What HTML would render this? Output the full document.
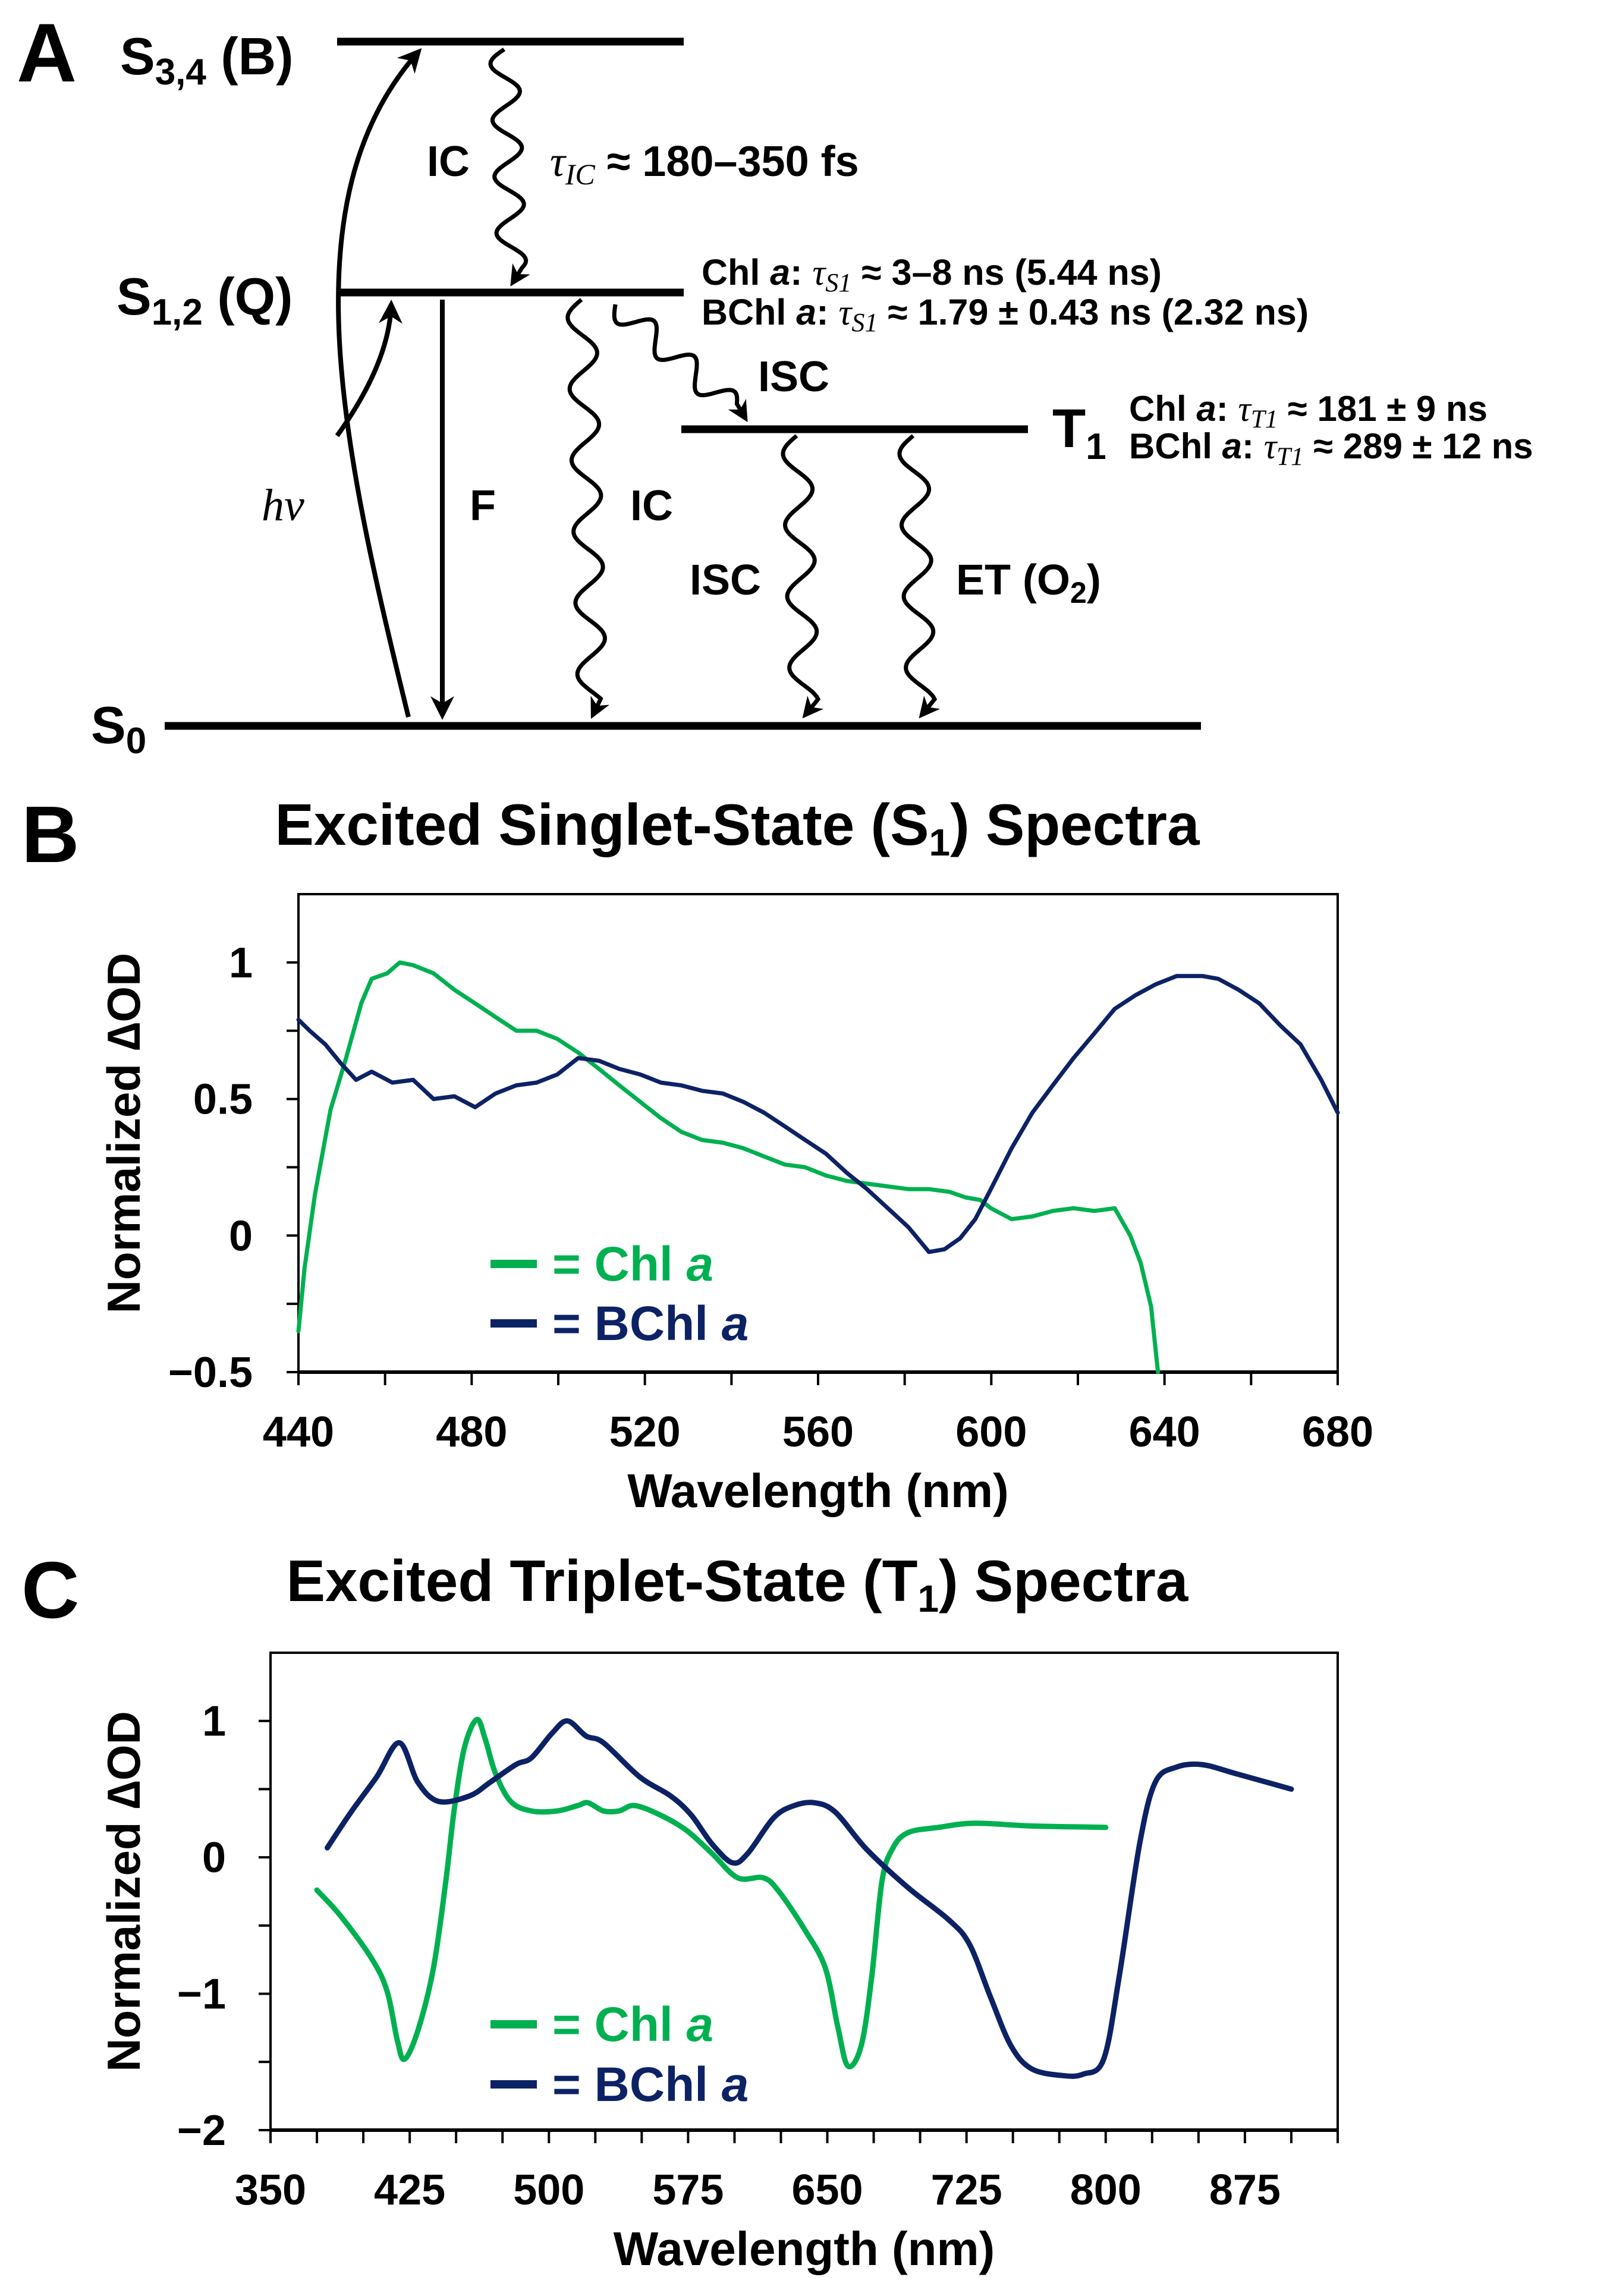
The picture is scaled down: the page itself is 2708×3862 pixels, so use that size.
<!DOCTYPE html>
<html><head><meta charset="utf-8">
<style>
html,body{margin:0;padding:0;background:#fff;}
svg{display:block;}
text{font-family:"Liberation Sans",Arial,sans-serif;font-weight:bold;fill:#000;}
.it{font-family:"Liberation Serif","DejaVu Serif",serif;font-style:italic;font-weight:normal;}
</style></head>
<body>
<svg id="fig" width="2708" height="3862" viewBox="0 0 2708 3862" xmlns="http://www.w3.org/2000/svg">
<defs>
<marker id="ah" viewBox="0 0 10 10" refX="8" refY="5" markerWidth="5" markerHeight="5" orient="auto-start-reverse"><path d="M0,0 L10,5 L0,10 L3,5 z" fill="#000"/></marker>
</defs>
<!-- Panel A -->
<g id="panelA">
<text x="28" y="137" font-size="140">A</text>
<line x1="567" y1="70" x2="1150" y2="70" stroke="#000" stroke-width="13"/>
<line x1="567" y1="492" x2="1150" y2="492" stroke="#000" stroke-width="13"/>
<line x1="1146" y1="722" x2="1729" y2="722" stroke="#000" stroke-width="13"/>
<line x1="277" y1="1221" x2="2020" y2="1221" stroke="#000" stroke-width="13"/>
<text x="202" y="125" font-size="88">S<tspan font-size="62" dy="17">3,4</tspan><tspan dy="-17"> (B)</tspan></text>
<text x="196" y="529" font-size="88">S<tspan font-size="62" dy="17">1,2</tspan><tspan dy="-17"> (Q)</tspan></text>
<text x="153" y="1250" font-size="88">S<tspan font-size="62" dy="17">0</tspan></text>
<text x="1770" y="752" font-size="92">T<tspan font-size="62" dy="20">1</tspan></text>
<path d="M687,1206 C575,750 483,333 704,87" fill="none" stroke="#000" stroke-width="8" marker-end="url(#ah)"/>
<path d="M567,733 Q655,610 658,512" fill="none" stroke="#000" stroke-width="8" marker-end="url(#ah)"/>
<line x1="744" y1="504" x2="744" y2="1203" stroke="#000" stroke-width="8" marker-end="url(#ah)"/>
<g id="wavies"></g>
<text x="718" y="296" font-size="72">IC</text>
<text x="925" y="296" font-size="72"><tspan class="it">τ</tspan><tspan class="it" font-size="50" dy="14">IC</tspan><tspan dy="-14"> ≈ 180–350 fs</tspan></text>
<text x="440" y="875" font-size="76" class="it">hν</text>
<text x="790" y="875" font-size="72">F</text>
<text x="1060" y="875" font-size="72">IC</text>
<text x="1275" y="658" font-size="72">ISC</text>
<text x="1160" y="1000" font-size="72">ISC</text>
<text x="1608" y="1000" font-size="72">ET (O<tspan font-size="50" dy="14">2</tspan><tspan dy="-14">)</tspan></text>
<text x="1180" y="479" font-size="61">Chl <tspan font-style="italic">a</tspan>: <tspan class="it">τ</tspan><tspan class="it" font-size="44" dy="11">S1</tspan><tspan dy="-11"> ≈ 3–8 ns (5.44 ns)</tspan></text>
<text x="1180" y="546" font-size="61">BChl <tspan font-style="italic">a</tspan>: <tspan class="it">τ</tspan><tspan class="it" font-size="44" dy="11">S1</tspan><tspan dy="-11"> ≈ 1.79 ± 0.43 ns (2.32 ns)</tspan></text>
<text x="1899" y="708" font-size="60">Chl <tspan font-style="italic">a</tspan>: <tspan class="it">τ</tspan><tspan class="it" font-size="43" dy="11">T1</tspan><tspan dy="-11"> ≈ 181 ± 9 ns</tspan></text>
<text x="1899" y="771" font-size="60">BChl <tspan font-style="italic">a</tspan>: <tspan class="it">τ</tspan><tspan class="it" font-size="43" dy="11">T1</tspan><tspan dy="-11"> ≈ 289 ± 12 ns</tspan></text>
</g>

<!-- Panel B -->
<text x="36" y="1450" font-size="135">B</text>
<text x="1240" y="1421" font-size="98" text-anchor="middle">Excited Singlet-State (S<tspan font-size="64" dy="18">1</tspan><tspan dy="-18">) Spectra</tspan></text>
<g id="chartB"></g>

<!-- Panel C -->
<text x="36" y="2721" font-size="135">C</text>
<text x="1240" y="2693" font-size="98" text-anchor="middle">Excited Triplet-State (T<tspan font-size="64" dy="18">1</tspan><tspan dy="-18">) Spectra</tspan></text>
<g id="chartC"></g>
</svg>
<script>
// ---- Panel B data ----
const bChlX = [440,441.4,443.8,447.4,451,454.5,456.9,460.5,463.4,466.5,471.2,476,480.8,485.5,490.3,495,499.8,504.6,509.4,514.1,518.9,523.7,528.4,533.2,538,542.7,547.5,552.3,557,561.8,566.6,571.3,576.1,580.9,585.6,590.4,594,597.5,599.9,604.7,609.5,614.2,619,623.8,628.5,632.1,634.5,636.9,638.5];
const bChlY = [-0.35,-0.12,0.15,0.46,0.65,0.85,0.94,0.96,1.0,0.99,0.96,0.9,0.85,0.8,0.75,0.75,0.72,0.67,0.61,0.55,0.49,0.43,0.38,0.35,0.34,0.32,0.29,0.26,0.25,0.22,0.2,0.19,0.18,0.17,0.17,0.16,0.14,0.13,0.1,0.06,0.07,0.09,0.1,0.09,0.1,0,-0.1,-0.26,-0.5];
const bBchlX = [440,442.6,446.2,449.8,453.3,456.9,461.7,466.5,471.2,476,480.8,485.5,490.3,495,499.8,504.6,509.4,514.1,518.9,523.7,528.4,533.2,538,542.7,547.5,552.3,557,561.8,566.6,571.3,576.1,580.9,585.6,589.2,592.8,596.3,599.9,604.7,609.5,614.2,619,623.8,628.5,633.3,638,642.8,648.8,652.4,657.1,661.9,666.7,671.4,676.2,680];
const bBchlY = [0.79,0.75,0.7,0.63,0.57,0.6,0.56,0.57,0.5,0.51,0.47,0.52,0.55,0.56,0.59,0.65,0.64,0.61,0.59,0.56,0.55,0.53,0.52,0.49,0.45,0.4,0.35,0.3,0.23,0.17,0.1,0.03,-0.06,-0.05,-0.01,0.06,0.17,0.32,0.45,0.55,0.65,0.74,0.83,0.88,0.92,0.95,0.95,0.94,0.9,0.85,0.77,0.7,0.57,0.45];
const bXTicks = [440,480,520,560,600,640,680];
const bYTicks = [1,0.5,0,-0.5];
const bYTickLabels = ["1","0.5","0","\u22120.5"];

// ---- Panel C data ----
const cChlX = [375,387.8,404.4,412.8,418.3,422.2,429.4,437.8,444.4,448.9,454.4,461.1,465.6,471.1,479.4,490.6,504.4,515.6,521.1,529.4,537.8,546.1,560,573.9,587.8,601.7,615.6,623.9,637.8,648.9,655.6,661.1,668.3,673.9,679.4,685,693.3,710,729.4,760,800];
const cChlY = [-0.24,-0.43,-0.74,-0.98,-1.34,-1.48,-1.27,-0.81,-0.18,0.34,0.8,1.01,0.87,0.62,0.41,0.34,0.34,0.38,0.4,0.34,0.34,0.38,0.31,0.2,0.03,-0.15,-0.15,-0.25,-0.53,-0.81,-1.24,-1.53,-1.38,-0.88,-0.18,0.06,0.18,0.22,0.25,0.23,0.22];
const cBchlX = [380.6,393.3,407.2,419.4,429.4,440.6,457.2,468.3,482.2,490.6,501.7,510,520,529.4,548.9,565.6,576.7,587.8,598.9,607.2,621.1,632.2,643.3,654.4,671.1,693.3,715.6,726.7,737.8,748.9,760,776.7,787.8,798.9,807.2,818.3,826.7,837.8,851.7,871.1,900];
const cBchlY = [0.07,0.33,0.59,0.84,0.55,0.41,0.45,0.55,0.68,0.73,0.91,1.0,0.89,0.84,0.59,0.45,0.31,0.1,-0.04,0.03,0.29,0.38,0.4,0.33,0.06,-0.22,-0.46,-0.64,-1.02,-1.38,-1.55,-1.6,-1.59,-1.48,-0.88,0.1,0.55,0.66,0.68,0.61,0.5];
const cXTicks = [350,425,500,575,650,725,800,875];
const cYTicks = [1,0,-1,-2];
const cYTickLabels = ["1","0","\u22121","\u22122"];

const NS = "http://www.w3.org/2000/svg";
const GREEN = "#00b050", NAVY = "#0c2265";
function mk(tag, parent, attrs){ const e=document.createElementNS(NS,tag); for(const k in attrs) e.setAttribute(k,attrs[k]); parent.appendChild(e); return e; }

function wavy(x1,y1,x2,y2,amp,wl){
  const dx=x2-x1, dy=y2-y1, L=Math.hypot(dx,dy), ux=dx/L, uy=dy/L, px=-uy, py=ux;
  let d="";
  for(let s=0;s<=L-25;s+=4){
    const o=amp*Math.sin(s/wl*2*Math.PI);
    const x=x1+ux*s+px*o, y=y1+uy*s+py*o;
    d+=(s===0?"M":"L")+x.toFixed(1)+","+y.toFixed(1);
  }
  d+="L"+x2+","+y2;
  return d;
}
const wg=document.getElementById("wavies");
const w1=mk("path",wg,{d:wavy(848,83,862,476,24,95),fill:"none",stroke:"#000","stroke-width":7,"marker-end":"url(#ah)"});


const w2=mk("path",wg,{d:wavy(978,504,997,1203,24,120),fill:"none",stroke:"#000","stroke-width":7,"marker-end":"url(#ah)"});


const w3=mk("path",wg,{d:wavy(1035,512,1254,704,22,90),fill:"none",stroke:"#000","stroke-width":7,"marker-end":"url(#ah)"});


const w4=mk("path",wg,{d:wavy(1340,733,1354,1203,24,120),fill:"none",stroke:"#000","stroke-width":7,"marker-end":"url(#ah)"});


const w5=mk("path",wg,{d:wavy(1536,733,1550,1203,24,120),fill:"none",stroke:"#000","stroke-width":7,"marker-end":"url(#ah)"});



function smoothPath(pts){
  let d="M"+pts[0][0].toFixed(1)+","+pts[0][1].toFixed(1);
  for(let i=0;i<pts.length-1;i++){
    const p0=pts[Math.max(0,i-1)],p1=pts[i],p2=pts[i+1],p3=pts[Math.min(pts.length-1,i+2)];
    const c1x=p1[0]+(p2[0]-p0[0])/6,c1y=p1[1]+(p2[1]-p0[1])/6;
    const c2x=p2[0]-(p3[0]-p1[0])/6,c2y=p2[1]-(p3[1]-p1[1])/6;
    d+="C"+c1x.toFixed(1)+","+c1y.toFixed(1)+" "+c2x.toFixed(1)+","+c2y.toFixed(1)+" "+p2[0].toFixed(1)+","+p2[1].toFixed(1);
  }
  return d;
}

function chart(g, cfg){
  const sx=v=>cfg.L+(v-cfg.x0)/(cfg.x1-cfg.x0)*(cfg.R-cfg.L);
  const sy=v=>cfg.B-(v-cfg.y0)/(cfg.y1-cfg.y0)*(cfg.B-cfg.T);
  const frame=mk("rect",g,{x:cfg.L,y:cfg.T,width:cfg.R-cfg.L,height:cfg.B-cfg.T,fill:"none",stroke:"#000","stroke-width":4});
  
  
  const xa=mk("line",g,{x1:cfg.L,y1:cfg.B,x2:cfg.R,y2:cfg.B,stroke:"#000","stroke-width":6});
  
  
  const ya=mk("line",g,{x1:cfg.L,y1:cfg.T,x2:cfg.L,y2:cfg.B,stroke:"#000","stroke-width":4});
  
  
  for(let v=cfg.x0; v<=cfg.x1+1e-6; v+=cfg.xMinor){
    const t=mk("line",g,{x1:sx(v),y1:cfg.B,x2:sx(v),y2:cfg.B+22,stroke:"#000","stroke-width":4});
    
    
  }
  for(let v=cfg.y0; v<=cfg.y1-cfg.yMinor+1e-6; v+=cfg.yMinor){
    const t=mk("line",g,{x1:cfg.L-20,y1:sy(v),x2:cfg.L,y2:sy(v),stroke:"#000","stroke-width":4});
    
    
  }
  cfg.xTicks.forEach(v=>{
    const t=mk("text",g,{x:sx(v),y:cfg.B+125,"font-size":72,"text-anchor":"middle"});
    t.textContent=v;
    
    
  });
  cfg.yTicks.forEach((v,i)=>{
    const t=mk("text",g,{x:cfg.yLabX,y:sy(v)+25,"font-size":72,"text-anchor":"end"});
    t.textContent=cfg.yLabels[i];
    
    
  });
  const xt=mk("text",g,{x:(cfg.L+cfg.R)/2,y:cfg.B+227,"font-size":80,"text-anchor":"middle"});
  xt.textContent="Wavelength (nm)";
  
  
  const cy=(cfg.T+cfg.B)/2+cfg.yTitleDy;
  const yt=mk("text",g,{x:0,y:0,"font-size":78,"text-anchor":"middle",transform:`translate(${cfg.yTitleX},${cy}) rotate(-90)`});
  yt.textContent="Normalized \u2206OD";
  
  
  cfg.series.forEach(s=>{
    const pts=s.x.map((v,i)=>[sx(v),sy(s.y[i])]);
    const d=cfg.smooth?smoothPath(pts):"M"+pts.map(p=>p[0].toFixed(1)+","+p[1].toFixed(1)).join("L");
    const p=mk("path",g,{d:d,fill:"none",stroke:s.c,"stroke-width":cfg.sw,"stroke-linejoin":"round","stroke-linecap":"round"});
    
    
  });
  cfg.legend.forEach((s,i)=>{
    const y=cfg.legY+i*cfg.legDy;
    const l=mk("line",g,{x1:825,y1:y,x2:903,y2:y,stroke:s.c,"stroke-width":14});
    
    
    const t=mk("text",g,{x:929,y:y+28,"font-size":82,fill:s.c});
    t.style.fill=s.c;
    t.innerHTML="= "+s.label+" <tspan font-style=\"italic\">a</tspan>";
    
    
  });
}

chart(document.getElementById("chartB"),{L:502,R:2250,T:1504,B:2308,x0:440,x1:680,y0:-0.5,y1:1.25,xMinor:20,yMinor:0.25,
  xTicks:bXTicks,yTicks:bYTicks,yLabels:bYTickLabels,yLabX:425,yTitleX:235,yTitleDy:0,smooth:false,sw:7,
  series:[{x:bChlX,y:bChlY,c:GREEN,name:"chl-a-singlet-line"},{x:bBchlX,y:bBchlY,c:NAVY,name:"bchl-a-singlet-line"}],
  legend:[{c:GREEN,label:"Chl"},{c:NAVY,label:"BChl"}],legY:2126,legDy:100});

chart(document.getElementById("chartC"),{L:455,R:2250,T:2780,B:3583,x0:350,x1:925,y0:-2,y1:1.5,xMinor:25,yMinor:0.5,
  xTicks:cXTicks,yTicks:cYTicks,yLabels:cYTickLabels,yLabX:380,yTitleX:235,yTitleDy:0,smooth:true,sw:9,
  series:[{x:cChlX,y:cChlY,c:GREEN,name:"chl-a-triplet-line"},{x:cBchlX,y:cBchlY,c:NAVY,name:"bchl-a-triplet-line"}],
  legend:[{c:GREEN,label:"Chl"},{c:NAVY,label:"BChl"}],legY:3405,legDy:101});
</script>
</body></html>
